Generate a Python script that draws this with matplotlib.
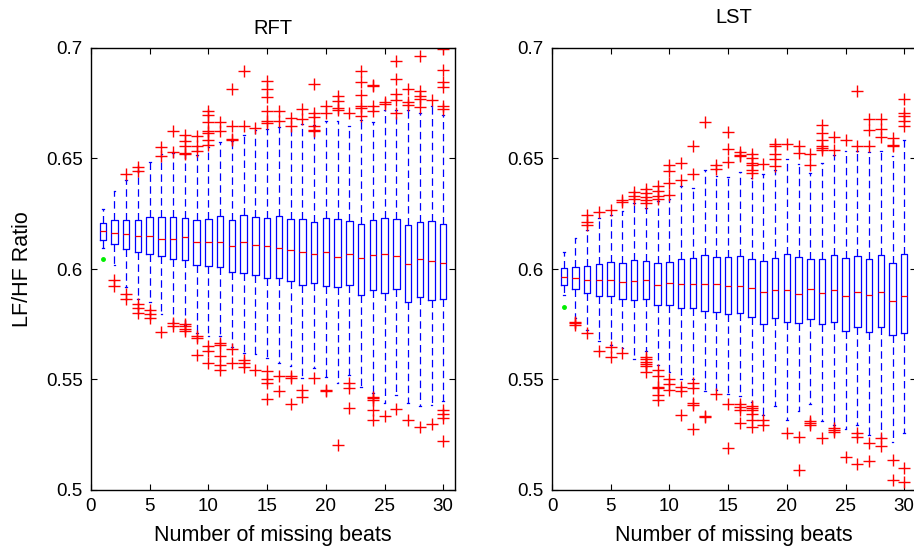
import matplotlib
matplotlib.use("Agg")
import matplotlib.pyplot as plt
from matplotlib.ticker import FormatStrFormatter

plt.rcParams['font.family'] = ['Liberation Sans', 'DejaVu Sans']

beats = list(range(1, 31))

# ---- RFT panel ----
rft_q1 = [0.6133, 0.6113, 0.6090, 0.6077, 0.6069, 0.6057, 0.6045, 0.6042, 0.6017, 0.6012,
          0.6011, 0.5986, 0.5983, 0.5971, 0.5959, 0.5961, 0.5944, 0.5928, 0.5935, 0.5922,
          0.5920, 0.5926, 0.5883, 0.5905, 0.5892, 0.5908, 0.5852, 0.5875, 0.5858, 0.5866]
rft_med = [0.6170, 0.6164, 0.6158, 0.6151, 0.6151, 0.6134, 0.6137, 0.6143, 0.6122, 0.6121,
           0.6121, 0.6106, 0.6122, 0.6107, 0.6103, 0.6095, 0.6086, 0.6077, 0.6069, 0.6075,
           0.6053, 0.6066, 0.6051, 0.6062, 0.6069, 0.6060, 0.6024, 0.6045, 0.6035, 0.6027]
rft_q3 = [0.6208, 0.6220, 0.6223, 0.6223, 0.6237, 0.6234, 0.6235, 0.6231, 0.6222, 0.6228,
          0.6238, 0.6223, 0.6246, 0.6235, 0.6232, 0.6238, 0.6225, 0.6228, 0.6211, 0.6229,
          0.6228, 0.6219, 0.6202, 0.6223, 0.6231, 0.6226, 0.6201, 0.6214, 0.6219, 0.6202]
rft_lo = [0.6095, 0.6020, 0.5917, 0.5863, 0.5852, 0.5797, 0.5755, 0.5747, 0.5712, 0.5697,
          0.5697, 0.5646, 0.5622, 0.5614, 0.5596, 0.5574, 0.5562, 0.5506, 0.5551, 0.5510,
          0.5486, 0.5521, 0.5464, 0.5438, 0.5393, 0.5431, 0.5393, 0.5378, 0.5383, 0.5401]
rft_hi = [0.6273, 0.6351, 0.6404, 0.6442, 0.6484, 0.6520, 0.6525, 0.6520, 0.6514, 0.6552,
          0.6573, 0.6578, 0.6608, 0.6630, 0.6633, 0.6643, 0.6646, 0.6656, 0.6653, 0.6668,
          0.6668, 0.6646, 0.6676, 0.6667, 0.6718, 0.6721, 0.6721, 0.6706, 0.6736, 0.6698]
rft_out = [
    [],
    [0.5950, 0.5923],
    [0.6431, 0.5886, 0.5864],
    [0.6460, 0.6442, 0.5840, 0.5822, 0.5800],
    [0.5815, 0.5797, 0.5777],
    [0.6550, 0.6513, 0.5717],
    [0.6626, 0.6529, 0.5755, 0.5740],
    [0.6608, 0.6578, 0.6555, 0.6525, 0.6522, 0.5752, 0.5740, 0.5729, 0.5721],
    [0.6603, 0.6555, 0.6532, 0.5697, 0.5687, 0.5611],
    [0.6716, 0.6698, 0.6664, 0.6623, 0.6615, 0.6585, 0.6560, 0.5652, 0.5631, 0.5574],
    [0.6664, 0.6626, 0.5667, 0.5657, 0.5608, 0.5566, 0.5544],
    [0.6814, 0.6646, 0.6588, 0.6585, 0.5637, 0.5574],
    [0.6897, 0.6649, 0.5589, 0.5574, 0.5556],
    [0.6638, 0.5544],
    [0.6852, 0.6814, 0.6778, 0.6713, 0.6668, 0.6661, 0.5539, 0.5503, 0.5486, 0.5411],
    [0.6716, 0.6668, 0.5518, 0.5446],
    [0.6683, 0.6646, 0.5514, 0.5506, 0.5389],
    [0.6725, 0.6680, 0.5453, 0.5423],
    [0.6839, 0.6706, 0.6686, 0.6646, 0.6630, 0.6623, 0.5506],
    [0.6736, 0.6706, 0.5453, 0.5449],
    [0.6781, 0.6759, 0.6728, 0.6721, 0.5205],
    [0.6706, 0.5486, 0.5461, 0.5370],
    [0.6897, 0.6846, 0.6789, 0.6736, 0.6728, 0.6691],
    [0.6834, 0.6830, 0.6736, 0.6713, 0.5423, 0.5416, 0.5408, 0.5360, 0.5318],
    [0.6754, 0.6748, 0.5337],
    [0.6943, 0.6861, 0.6792, 0.6766, 0.6706, 0.5366],
    [0.6814, 0.6754, 0.6744, 0.5318],
    [0.6962, 0.6804, 0.6781, 0.6769, 0.6732, 0.5283],
    [0.6766, 0.5298],
    [0.6997, 0.6899, 0.6845, 0.6824, 0.6736, 0.6724, 0.5363, 0.5345, 0.5325, 0.5220],
]
rft_green = 0.6047

# ---- LST panel ----
lst_q1 = [0.5928, 0.5911, 0.5893, 0.5878, 0.5878, 0.5866, 0.5858, 0.5863, 0.5837, 0.5837,
          0.5825, 0.5822, 0.5810, 0.5807, 0.5797, 0.5800, 0.5782, 0.5750, 0.5777, 0.5762,
          0.5755, 0.5773, 0.5752, 0.5758, 0.5720, 0.5739, 0.5717, 0.5736, 0.5702, 0.5712]
lst_med = [0.5965, 0.5961, 0.5950, 0.5950, 0.5950, 0.5941, 0.5946, 0.5949, 0.5928, 0.5935,
           0.5934, 0.5931, 0.5934, 0.5931, 0.5925, 0.5925, 0.5916, 0.5898, 0.5905, 0.5905,
           0.5886, 0.5908, 0.5890, 0.5905, 0.5880, 0.5895, 0.5883, 0.5898, 0.5855, 0.5878]
lst_q3 = [0.6005, 0.6009, 0.6015, 0.6023, 0.6032, 0.6027, 0.6039, 0.6035, 0.6027, 0.6032,
          0.6047, 0.6048, 0.6065, 0.6054, 0.6054, 0.6057, 0.6047, 0.6038, 0.6050, 0.6066,
          0.6053, 0.6045, 0.6047, 0.6065, 0.6050, 0.6059, 0.6044, 0.6063, 0.6027, 0.6066]
lst_lo = [0.5883, 0.5777, 0.5724, 0.5672, 0.5657, 0.5642, 0.5592, 0.5627, 0.5566, 0.5536,
          0.5501, 0.5501, 0.5449, 0.5453, 0.5434, 0.5426, 0.5396, 0.5340, 0.5378, 0.5318,
          0.5356, 0.5390, 0.5310, 0.5295, 0.5276, 0.5295, 0.5250, 0.5235, 0.5215, 0.5258]
lst_hi = [0.6075, 0.6140, 0.6178, 0.6231, 0.6246, 0.6261, 0.6299, 0.6276, 0.6306, 0.6317,
          0.6374, 0.6367, 0.6449, 0.6419, 0.6416, 0.6437, 0.6412, 0.6428, 0.6449, 0.6497,
          0.6475, 0.6434, 0.6480, 0.6518, 0.6533, 0.6533, 0.6530, 0.6533, 0.6510, 0.6585]
lst_out = [
    [],
    [0.5762, 0.5755, 0.5747],
    [0.6246, 0.6211, 0.6200, 0.5709],
    [0.6258, 0.5631],
    [0.6268, 0.5649, 0.5604],
    [0.6314, 0.6302, 0.5622],
    [0.6347, 0.6329, 0.6317],
    [0.6362, 0.6344, 0.6326, 0.6314, 0.6299, 0.5601, 0.5592, 0.5581, 0.5571, 0.5559, 0.5536],
    [0.6374, 0.6351, 0.6332, 0.6317, 0.5544, 0.5517, 0.5468, 0.5461, 0.5431, 0.5408],
    [0.6469, 0.6442, 0.6389, 0.6336, 0.5501, 0.5480, 0.5453],
    [0.6480, 0.6404, 0.5468, 0.5446, 0.5340],
    [0.6558, 0.6431, 0.5483, 0.5461, 0.5393, 0.5386, 0.5276],
    [0.6664, 0.5336, 0.5330],
    [0.6472, 0.6453, 0.5435],
    [0.6618, 0.6543, 0.6483, 0.5389, 0.5190],
    [0.6528, 0.6517, 0.6510, 0.5389, 0.5375, 0.5363, 0.5303],
    [0.6522, 0.6502, 0.6480, 0.6469, 0.6449, 0.6434, 0.5378, 0.5371, 0.5363, 0.5345, 0.5315, 0.5285],
    [0.6477, 0.5318, 0.5295],
    [0.6567, 0.6555, 0.6522, 0.6498, 0.6465],
    [0.6566, 0.5258],
    [0.6558, 0.6525, 0.5242, 0.5089],
    [0.6522, 0.6472, 0.5313, 0.5303, 0.5292],
    [0.6653, 0.6615, 0.6585, 0.6558, 0.6547, 0.6540, 0.5235],
    [0.6596, 0.6540, 0.5280, 0.5270, 0.5261],
    [0.6585, 0.5149],
    [0.6804, 0.6555, 0.5258, 0.5240, 0.5119],
    [0.6680, 0.6627, 0.6558, 0.5212, 0.5129],
    [0.6679, 0.6635, 0.6597, 0.5235, 0.5200],
    [0.6593, 0.6563, 0.6558, 0.5134, 0.5044],
    [0.6769, 0.6706, 0.6694, 0.6668, 0.6649, 0.5100, 0.5035],
]
lst_green = 0.5830


def draw_panel(ax, title, q1, med, q3, lo, hi, out, green, title_pad):
    stats = []
    for i in range(len(beats)):
        stats.append({'q1': q1[i], 'med': med[i], 'q3': q3[i],
                      'whislo': lo[i], 'whishi': hi[i], 'fliers': out[i]})
    ax.bxp(stats, positions=beats, widths=0.55, capwidths=0.15,
           manage_ticks=False,
           boxprops=dict(color='blue', lw=0.9),
           medianprops=dict(color='red', lw=0.9),
           whiskerprops=dict(color='blue', lw=0.9, linestyle=(0, (6, 3.5))),
           capprops=dict(color='blue', lw=0.9),
           flierprops=dict(marker='+', markeredgecolor='red', markersize=8,
                           markeredgewidth=1.0, linestyle='none'))
    ax.plot([beats[0]], [green], marker='o', color='#00ee00', markersize=2.5, lw=0)

    ax.set_xlim(0, 31)
    ax.set_ylim(0.5, 0.7)
    ax.set_xticks([0, 5, 10, 15, 20, 25, 30])
    ax.set_yticks([0.5, 0.55, 0.6, 0.65, 0.7])
    ax.yaxis.set_major_formatter(FormatStrFormatter('%g'))
    ax.tick_params(direction='in', top=True, right=True, length=4, width=0.8,
                   labelsize=13.5, pad=6)
    for sp in ax.spines.values():
        sp.set_linewidth(1.0)
    ax.set_xlabel('Number of missing beats', fontsize=15.5, labelpad=7)
    ax.set_title(title, fontsize=14.5, pad=title_pad)


fig = plt.figure(figsize=(9.14, 5.47), dpi=100)
ax1 = fig.add_axes([91 / 914, 57 / 547, 364 / 914, 442 / 547])
ax2 = fig.add_axes([552 / 914, 57 / 547, 364 / 914, 442 / 547])

draw_panel(ax1, 'RFT', rft_q1, rft_med, rft_q3, rft_lo, rft_hi, rft_out, rft_green, 10)
draw_panel(ax2, 'LST', lst_q1, lst_med, lst_q3, lst_lo, lst_hi, lst_out, lst_green, 18)
ax1.set_ylabel('LF/HF Ratio', fontsize=15.5, labelpad=9)

fig.savefig('out.png', dpi=100)
